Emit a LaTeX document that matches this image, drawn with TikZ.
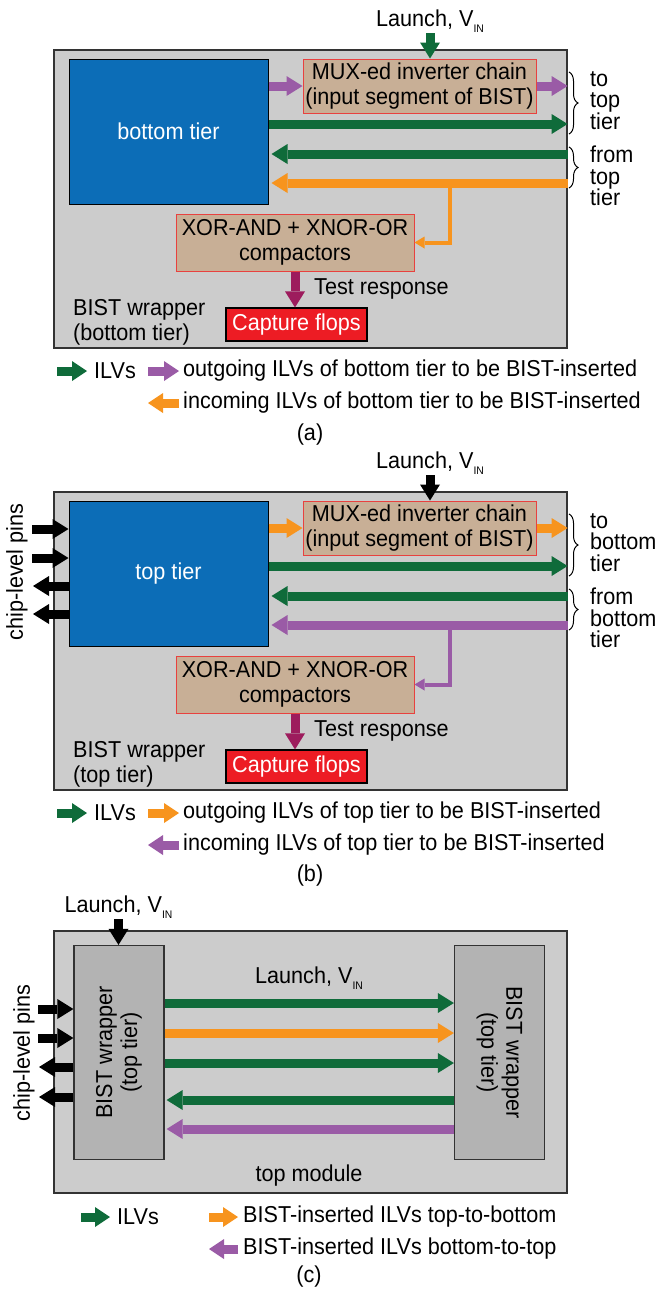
\documentclass[tikz,border=0pt]{standalone}
\usepackage{fontspec}
\setmainfont{Liberation Sans}[FakeStretch=0.94]
\usepackage{xcolor}
\usetikzlibrary{arrows.meta, calc, positioning, decorations.pathreplacing}
\definecolor{tiergray}{HTML}{CCCCCC}
\definecolor{wrapgray}{HTML}{B3B3B3}
\definecolor{tierblue}{HTML}{0C6DB7}
\definecolor{bisttan}{HTML}{C8AF96}
\definecolor{bistred}{HTML}{E8413F}
\definecolor{ilvgreen}{HTML}{0F6B3A}
\definecolor{ilvpurple}{HTML}{9A5BA6}
\definecolor{ilvorange}{HTML}{F7941E}
\definecolor{respmag}{HTML}{9D1C5D}
\definecolor{flopred}{HTML}{ED1C24}
\newcommand{\VIN}{V\raisebox{-6pt}{\fontsize{11}{11}\selectfont IN}}

\begin{document}
\begin{tikzpicture}[
  x=1pt, y=-1pt,
  font=\fontsize{23}{25}\selectfont,
  panel/.style={draw=black!80, line width=1.2pt, fill=tiergray},
  tierbox/.style={draw=black, line width=1pt, fill=tierblue, text=white},
  bistbox/.style={draw=bistred, line width=1pt, fill=bisttan, align=center, inner sep=0pt},
  flopbox/.style={draw=black, line width=1.2pt, fill=flopred, text=white, inner sep=0pt},
  wrapbox/.style={draw=black!80, line width=1.2pt, fill=wrapgray},
  lbl/.style={inner sep=1pt, align=left},
  brlbl/.style={lbl, font=\fontsize{23}{21.5}\selectfont},
  ilv/.style={line width=9pt, -{Triangle[width=20pt,length=16pt,line width=0pt]}},
  thinilv/.style={line width=4pt, -{Triangle[width=12pt,length=10pt,line width=0pt]}},
  legend/.style={line width=9pt, -{Triangle[width=20pt,length=15pt,line width=0pt]}},
  brc/.style={decorate, decoration={brace, amplitude=9pt}, line width=1pt}
]
\useasboundingbox (0,0) rectangle (658,1291);

% ---------------- (a) bottom tier ----------------
\node[panel, minimum width=513pt, minimum height=298pt] (wrapa) at (310.5,199) {};
\node[tierbox, minimum width=199pt, minimum height=145pt] (bota) at (168.5,131.5) {bottom tier};
\node[bistbox, minimum width=233pt, minimum height=54pt] (muxa) at (419.5,86)
  {MUX-ed inverter chain\\(input segment of BIST)};
\node[lbl, anchor=base] (launcha) at (430,26) {Launch, \VIN};
\node[bistbox, minimum width=238pt, minimum height=57pt] (xora) at (295,242.5)
  {XOR-AND + XNOR-OR\\compactors};
\node[flopbox, minimum width=141pt, minimum height=33pt] (capa) at (296.5,324.5) {Capture flops};
\node[lbl, anchor=west] (respa) at (313,289) {Test response};
\node[lbl, anchor=west] (wrplbla) at (72,322) {BIST wrapper\\(bottom tier)};

\coordinate (a-to1) at (wrapa.east |- muxa);
\coordinate (a-to2) at (wrapa.east |- 0,124);
\coordinate (a-fr1) at (wrapa.east |- 0,154);
\coordinate (a-fr2) at (wrapa.east |- 0,183);
\coordinate (a-br) at (450,183);

\draw[ilv, ilvgreen] (launcha.south) -- (launcha.south |- muxa.north);
\draw[ilv, ilvpurple] (bota.east |- muxa) -- (muxa.west);
\draw[ilv, ilvpurple] (muxa.east) -- (a-to1);
\draw[ilv, ilvgreen] (bota.east |- a-to2) -- (a-to2);
\draw[ilv, ilvgreen] (a-fr1) -- ([xshift=3pt]bota.east |- a-fr1);
\draw[ilv, ilvorange] (a-fr2) -- ([xshift=3pt]bota.east |- a-fr2);
\draw[thinilv, ilvorange] (a-br) |- (xora.east);
\draw[ilv, respmag] (xora.south) -- (xora.south |- capa.north);

% to / from the other tier
\draw[brc] (569,72) -- (569,134);
\draw[brc] (569,147) -- (569,188);
\node[brlbl, anchor=west] (toa) at (589,100.5) {to\\top\\tier};
\node[brlbl, anchor=west] (froma) at (589,176) {from\\top\\tier};

% legend
\node[lbl, anchor=west] (ilvsa) at (93,371) {ILVs};
\node[lbl, anchor=west] (outa) at (182,371) {outgoing ILVs of bottom tier to be BIST-inserted};
\node[lbl, anchor=west] (ina) at (182,403) {incoming ILVs of bottom tier to be BIST-inserted};
\draw[legend, ilvgreen] ([xshift=-36pt]ilvsa.west) -- ([xshift=-6pt]ilvsa.west);
\draw[legend, ilvpurple] ([xshift=-34pt]outa.west) -- ([xshift=-3pt]outa.west);
\draw[legend, ilvorange] ([xshift=-3pt]ina.west) -- ([xshift=-34pt]ina.west);
\node (capta) at (310,435) {(a)};

% ---------------- (b) top tier ----------------
\begin{scope}[shift={(0,442)}]
\node[panel, minimum width=513pt, minimum height=298pt] (wrapb) at (310.5,199) {};
\node[tierbox, minimum width=199pt, minimum height=145pt] (botb) at (168.5,131.5) {top tier};
\node[bistbox, minimum width=233pt, minimum height=54pt] (muxb) at (419.5,86)
  {MUX-ed inverter chain\\(input segment of BIST)};
\node[lbl, anchor=base] (launchb) at (430,26) {Launch, \VIN};
\node[bistbox, minimum width=238pt, minimum height=57pt] (xorb) at (295,242.5)
  {XOR-AND + XNOR-OR\\compactors};
\node[flopbox, minimum width=141pt, minimum height=33pt] (capb) at (296.5,324.5) {Capture flops};
\node[lbl, anchor=west] (respb) at (313,289) {Test response};
\node[lbl, anchor=west] (wrplblb) at (72,322) {BIST wrapper\\(top tier)};

\coordinate (b-to1) at (wrapb.east |- muxb);
\coordinate (b-to2) at (wrapb.east |- 0,124);
\coordinate (b-fr1) at (wrapb.east |- 0,154);
\coordinate (b-fr2) at (wrapb.east |- 0,183);
\coordinate (b-br) at (450,183);

\draw[ilv, black] (launchb.south) -- (launchb.south |- muxb.north);
\draw[ilv, ilvorange] (botb.east |- muxb) -- (muxb.west);
\draw[ilv, ilvorange] (muxb.east) -- (b-to1);
\draw[ilv, ilvgreen] (botb.east |- b-to2) -- (b-to2);
\draw[ilv, ilvgreen] (b-fr1) -- ([xshift=3pt]botb.east |- b-fr1);
\draw[ilv, ilvpurple] (b-fr2) -- ([xshift=3pt]botb.east |- b-fr2);
\draw[thinilv, ilvpurple] (b-br) |- (xorb.east);
\draw[ilv, respmag] (xorb.south) -- (xorb.south |- capb.north);

% chip-level pins
\foreach \py in {87,116}
  \draw[ilv, black] (32,\py) -- (botb.west |- 0,\py);
\foreach \py in {144,172}
  \draw[ilv, black] (botb.west |- 0,\py) -- (33,\py);
\node[lbl, rotate=90] (pinsb) at (17,130) {chip-level pins};

\draw[brc] (569,72) -- (569,134);
\draw[brc] (569,147) -- (569,188);
\node[brlbl, anchor=west] (tob) at (589,100.5) {to\\bottom\\tier};
\node[brlbl, anchor=west] (fromb) at (589,176) {from\\bottom\\tier};

% legend
\node[lbl, anchor=west] (ilvsb) at (93,371) {ILVs};
\node[lbl, anchor=west] (outb) at (182,371) {outgoing ILVs of top tier to be BIST-inserted};
\node[lbl, anchor=west] (inb) at (182,403) {incoming ILVs of top tier to be BIST-inserted};
\draw[legend, ilvgreen] ([xshift=-36pt]ilvsb.west) -- ([xshift=-6pt]ilvsb.west);
\draw[legend, ilvorange] ([xshift=-34pt]outb.west) -- ([xshift=-3pt]outb.west);
\draw[legend, ilvpurple] ([xshift=-3pt]inb.west) -- ([xshift=-34pt]inb.west);
\node (captb) at (310,434) {(b)};
\end{scope}

% ---------------- (c) top module ----------------
\node[panel, minimum width=513pt, minimum height=262pt] (wrapc) at (310.5,1062) {};
\node[wrapbox, minimum width=90pt, minimum height=214pt] (lwrap) at (119,1052.5) {};
\node[wrapbox, minimum width=90pt, minimum height=214pt] (rwrap) at (499.5,1052.5) {};
\node[lbl, rotate=90, align=center] (lwraplbl) at (lwrap) {BIST wrapper\\(top tier)};
\node[lbl, rotate=-90, align=center] (rwraplbl) at (rwrap) {BIST wrapper\\(top tier)};
\node[lbl, anchor=base] (launchc) at (118.5,912) {Launch, \VIN};
\node[lbl, anchor=base] (launchmid) at (309,983) {Launch, \VIN};
\node (topmod) at (309,1176) {top module};

\draw[ilv, black] (launchc.south) -- (launchc.south |- lwrap.north);
\foreach \y/\clr in {1003/ilvgreen, 1033/ilvorange, 1063/ilvgreen}
  \draw[ilv, \clr] (lwrap.east |- 0,\y) -- (rwrap.west |- 0,\y);
\foreach \y/\clr in {1100/ilvgreen, 1129/ilvpurple}
  \draw[ilv, \clr] (rwrap.west |- 0,\y) -- ([xshift=2pt]lwrap.east |- 0,\y);

% chip-level pins
\foreach \py in {1009,1038}
  \draw[ilv, black] (38,\py) -- (lwrap.west |- 0,\py);
\foreach \py in {1067,1097}
  \draw[ilv, black] (lwrap.west |- 0,\py) -- (39,\py);
\node[lbl, rotate=90] (pinsc) at (24,1053) {chip-level pins};

% legend
\node[lbl, anchor=west] (ilvsc) at (116,1217) {ILVs};
\node[lbl, anchor=west] (t2bc) at (242,1217) {BIST-inserted ILVs top-to-bottom};
\node[lbl, anchor=west] (b2tc) at (242,1249) {BIST-inserted ILVs bottom-to-top};
\draw[legend, ilvgreen] ([xshift=-35pt]ilvsc.west) -- ([xshift=-6pt]ilvsc.west);
\draw[legend, ilvorange] ([xshift=-33pt]t2bc.west) -- ([xshift=-4pt]t2bc.west);
\draw[legend, ilvpurple] ([xshift=-4pt]b2tc.west) -- ([xshift=-33pt]b2tc.west);
\node (captc) at (309,1277) {(c)};

\end{tikzpicture}
\end{document}
